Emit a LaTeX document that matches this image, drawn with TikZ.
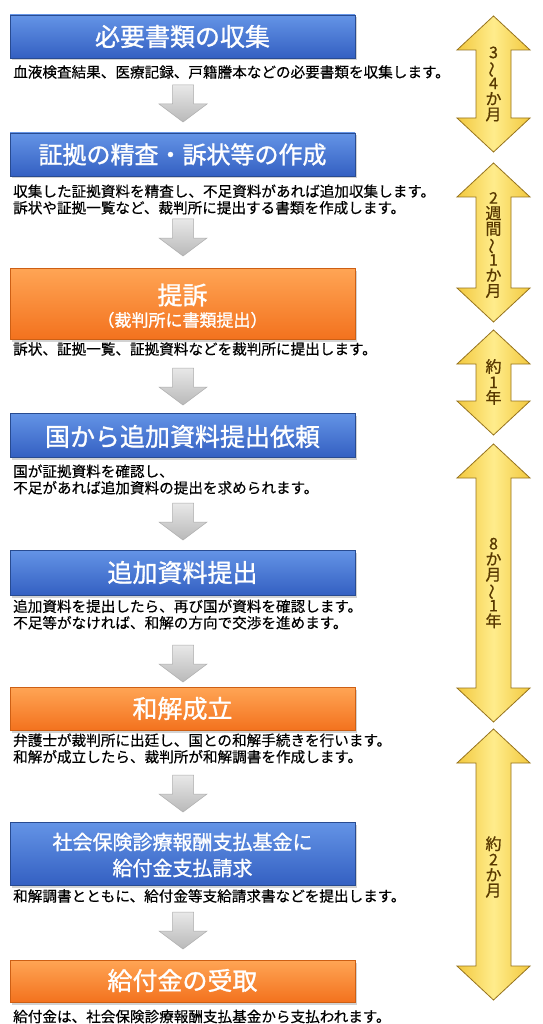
\documentclass[tikz,border=0pt]{standalone}
\usepackage{fontspec}
\newfontfamily\jp{Noto Sans CJK JP}
\newfontfamily\jpt[FakeBold=1.1]{Noto Sans CJK JP}
\newfontfamily\jpd[FakeBold=0.4]{Noto Sans CJK JP}
\newfontfamily\jpy[FakeBold=0.8]{Noto Sans CJK JP}
\usetikzlibrary{shadows}
\definecolor{bluetop}{RGB}{100,148,230}
\definecolor{bluebot}{RGB}{52,96,194}
\definecolor{blueline}{RGB}{40,75,145}
\definecolor{orgtop}{RGB}{255,165,85}
\definecolor{orgbot}{RGB}{243,114,30}
\definecolor{orgline}{RGB}{205,95,20}
\definecolor{yedge}{RGB}{242,200,62}
\definecolor{ymid}{RGB}{255,236,140}
\definecolor{yline}{RGB}{150,115,30}
\definecolor{ytxt}{RGB}{88,56,0}
\newcommand\vtil{\rotatebox[origin=c]{90}{～}}
\newcommand\tightlines{\setlength{\lineskiplimit}{-20pt}}
\newcommand\ydbl[3]{%
  \path[yarrow] (493.5,#2) -- (530,#2+34) -- (511,#2+34) -- (511,#3-34) -- (530,#3-34)
    -- (493.5,#3) -- (457,#3-34) -- (476,#3-34) -- (476,#2+34) -- (457,#2+34) -- cycle;
  \coordinate (#1) at (493.5,{(#2+#3)/2});}
\begin{document}
\begin{tikzpicture}[x=1pt,y=-1pt,
  boxbase/.style={minimum width=345pt, inner sep=0pt,
    drop shadow={shadow xshift=2pt,shadow yshift=-2.5pt,opacity=0.35}},
  bluebox/.style={boxbase, top color=bluetop, bottom color=bluebot, draw=blueline, line width=0.6pt},
  orgbox/.style={boxbase, top color=orgtop, bottom color=orgbot, draw=orgline, line width=0.6pt},
  title/.style={inner sep=0pt, text=white, font=\jpt\fontsize{25}{30}\selectfont},
  desc/.style={anchor=west, inner sep=0pt, align=left, text=black,
    font=\jpd\fontsize{14.6}{16.5}\selectfont},
  yarrow/.style={left color=yedge, right color=yedge, middle color=ymid, draw=yline, line width=0.8pt, line join=miter},
  ytext/.style={inner sep=0pt, align=center, text=ytxt,
    font=\jpy\fontsize{16}{15.5}\selectfont\tightlines},
  garrow/.pic={\path[top color=gray!18, bottom color=gray!55, draw=gray!65, line width=0.5pt]
    (-10.5,0) -- (10.5,0) -- (10.5,19) -- (24,19) -- (0,37) -- (-24,19) -- (-10.5,19) -- cycle;}
]
\path[use as bounding box, fill=white] (0,0) rectangle (542,1024);

% boxes
\node[bluebox, minimum height=43pt] (b1) at (182.5,36.5) {};
\node[bluebox, minimum height=43pt] (b2) at (182.5,154.5) {};
\node[orgbox, minimum height=71pt] (b3) at (182.5,303.5) {};
\node[bluebox, minimum height=44pt] (b4) at (182.5,435) {};
\node[bluebox, minimum height=45pt] (b5) at (182.5,572.5) {};
\node[orgbox, minimum height=43pt] (b6) at (182.5,708.5) {};
\node[bluebox, minimum height=63pt] (b7) at (182.5,853.5) {};
\node[orgbox, minimum height=42pt] (b8) at (182.5,981) {};

% titles
\node[title] (t1) at (b1.center) {必要書類の収集};
\node[title, font=\jpt\fontsize{24}{30}\selectfont] (t2) at (b2.center) {証拠の精査・訴状等の作成};
\node[title] (t3a) at (182.5,295) {提訴};
\node[title, font=\jpt\fontsize{17}{20}\selectfont] (t3b) at (182.5,320) {（裁判所に書類提出）};
\node[title] (t4) at (182.5,436.5) {国から追加資料提出依頼};
\node[title] (t5) at (b5.center) {追加資料提出};
\node[title] (t6) at (b6.center) {和解成立};
\node[title, font=\jpt\fontsize{20}{24}\selectfont] (t7a) at (182.5,842) {社会保険診療報酬支払基金に};
\node[title, font=\jpt\fontsize{20}{24}\selectfont] (t7b) at (182.5,868) {給付金支払請求};
\node[title] (t8) at (182.5,980.5) {給付金の受取};

% descriptions
\node[desc] (d1) at (13,72) {血液検査結果、医療記録、戸籍謄本などの必要書類を収集します。};
\node[desc] (d2) at (13,199.5) {収集した証拠資料を精査し、不足資料があれば追加収集します。\\訴状や証拠一覧など、裁判所に提出する書類を作成します。};
\node[desc] (d3) at (13,349) {訴状、証拠一覧、証拠資料などを裁判所に提出します。};
\node[desc] (d4) at (13,479.5) {国が証拠資料を確認し、\\不足があれば追加資料の提出を求められます。};
\node[desc] (d5) at (13,614.5) {追加資料を提出したら、再び国が資料を確認します。\\不足等がなければ、和解の方向で交渉を進めます。};
\node[desc] (d6) at (13,748.5) {弁護士が裁判所に出廷し、国との和解手続きを行います。\\和解が成立したら、裁判所が和解調書を作成します。};
\node[desc] (d7) at (13,896) {和解調書とともに、給付金等支給請求書などを提出します。};
\node[desc] (d8) at (13,1016.5) {給付金は、社会保険診療報酬支払基金から支払われます。};

% gray step arrows
\pic at (183,85) {garrow};
\pic at (183,219) {garrow};
\pic at (183,368) {garrow};
\pic at (183,503) {garrow};
\pic at (183,645) {garrow};
\pic at (183,775) {garrow};
\pic at (183,912) {garrow};

% yellow duration arrows
\ydbl{y1}{16}{152}
\ydbl{y2}{163}{322}
\ydbl{y3}{330}{435}
\ydbl{y4}{444}{722}
\ydbl{y5}{729}{1000}
\node[ytext] (l1) at (493.5,84) {3\\{\vtil}\\4\\か\\月};
\node[ytext] (l2) at (493.5,245) {2\\週\\間\\{\vtil}\\1\\か\\月};
\node[ytext] (l3) at (493.5,382) {約\\1\\年};
\node[ytext] (l4) at (493.5,583) {8\\か\\月\\{\vtil}\\1\\年};
\node[ytext] (l5) at (493.5,867) {約\\2\\か\\月};
\end{tikzpicture}
\end{document}
